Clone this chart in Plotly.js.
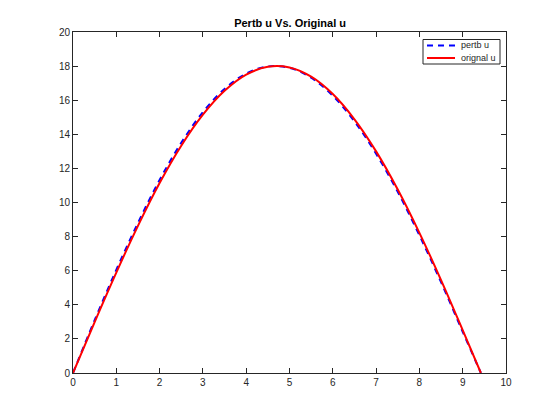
<!DOCTYPE html>
<html>
<head>
<meta charset="utf-8">
<script src="https://cdn.plot.ly/plotly-3.0.1.min.js"></script>
<style>html,body{margin:0;padding:0;background:#fff;}#chart{width:560px;height:420px;}</style>
</head>
<body>
<div id="chart"></div>
<script>
var xVals = [0, 0.5, 1.0, 1.5, 2.0, 2.5, 3.0, 3.5, 4.0, 4.5, 5.0, 5.5, 6.0, 6.5, 7.0, 7.5, 8.0, 8.5, 9.0, 9.42];
var pertbU = [0, 3.1, 6.05, 8.8, 11.32, 13.5, 15.3, 16.66, 17.56, 17.98, 17.9, 17.32, 16.26, 14.76, 12.86, 10.63, 8.08, 5.33, 2.42, 0];
var originalU = [0, 2.99, 5.89, 8.63, 11.14, 13.33, 15.15, 16.55, 17.5, 17.96, 17.92, 17.38, 16.36, 14.88, 13.0, 10.76, 8.22, 5.45, 2.51, 0];
var seriesNames = ["pertb u", "orignal u"];
var titleText = "Pertb u Vs. Original u";

var traces = [
  {x: xVals, y: pertbU, name: seriesNames[0], type: 'scatter', mode: 'lines',
   line: {color: '#0000ff', width: 2, dash: '6px,5px', shape: 'spline'}},
  {x: xVals, y: originalU, name: seriesNames[1], type: 'scatter', mode: 'lines',
   line: {color: '#ff0000', width: 2, shape: 'spline'}}
];

var axisCommon = {
  showgrid: false, zeroline: false, showline: true, linecolor: '#262626', linewidth: 1,
  mirror: 'ticks', ticks: 'inside', ticklen: 5, tickcolor: '#262626', tickwidth: 1,
  tickfont: {family: 'Liberation Sans, Arial, sans-serif', size: 10, color: '#262626'}
};

// plot area in pixels: left 73, right 506, top 32, bottom 373
function px(p) { return (p - 73) / 433; }
function py(p) { return (373 - p) / 341; }

var legendFont = {family: 'Liberation Sans, Arial, sans-serif', size: 9, color: '#262626'};
var shapes = [
  {type: 'rect', xref: 'paper', yref: 'paper', x0: px(423), x1: px(500), y0: py(64), y1: py(39.5),
   line: {color: '#262626', width: 1}, fillcolor: '#ffffff', layer: 'above'},
  {type: 'line', xref: 'paper', yref: 'paper', x0: px(427), x1: px(455), y0: py(45.5), y1: py(45.5),
   line: {color: '#0000ff', width: 2, dash: '6px,5px'}, layer: 'above'},
  {type: 'line', xref: 'paper', yref: 'paper', x0: px(427), x1: px(455), y0: py(58), y1: py(58),
   line: {color: '#ff0000', width: 2}, layer: 'above'}
];
var annotations = [
  {xref: 'paper', yref: 'paper', x: px(459), y: py(45.5), xanchor: 'left', yanchor: 'middle',
   text: seriesNames[0], showarrow: false, font: legendFont},
  {xref: 'paper', yref: 'paper', x: px(459), y: py(58), xanchor: 'left', yanchor: 'middle',
   text: seriesNames[1], showarrow: false, font: legendFont}
];

var layout = {
  width: 560, height: 420,
  margin: {l: 73, r: 54, t: 32, b: 47},
  paper_bgcolor: '#ffffff', plot_bgcolor: '#ffffff',
  title: {text: '<b>' + titleText + '</b>', x: 0.518, xanchor: 'center', y: 0.945, yanchor: 'middle',
          font: {family: 'Liberation Sans, Arial, sans-serif', size: 11, color: '#000'}},
  xaxis: Object.assign({}, axisCommon, {range: [0, 10], tickvals: [0,1,2,3,4,5,6,7,8,9,10], ticktext: ['0','1','2','3','4','5','6','7','8','9','10']}),
  yaxis: Object.assign({}, axisCommon, {range: [0, 20], tickvals: [0,2,4,6,8,10,12,14,16,18,20], ticktext: ['0','2','4','6','8','10','12','14','16','18','20']}),
  showlegend: false,
  shapes: shapes,
  annotations: annotations
};

Plotly.newPlot('chart', traces, layout, {displayModeBar: false, staticPlot: true});
</script>
</body>
</html>
